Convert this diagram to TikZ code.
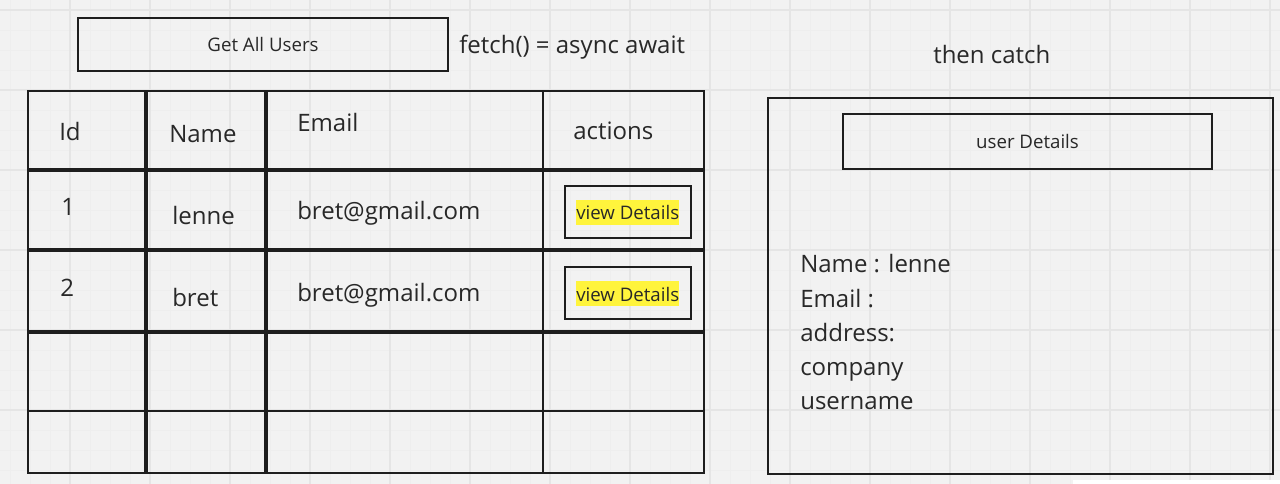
\documentclass[tikz,border=0pt]{standalone}
\usepackage{fontspec}
\setmainfont{Open Sans}
\definecolor{paper}{RGB}{242,242,242}
\definecolor{gridminor}{RGB}{238,238,238}
\definecolor{gridmajor}{RGB}{229,229,229}
\definecolor{ink}{RGB}{30,30,30}
\definecolor{textc}{RGB}{40,40,40}
\definecolor{marker}{RGB}{255,244,60}
\begin{document}
\begin{tikzpicture}[x=0.75pt,y=-0.75pt,
  txt/.style={text=textc,inner sep=0pt,font=\fontsize{18pt}{22pt}\selectfont},
  small/.style={text=textc,inner sep=0pt,font=\fontsize{14pt}{17pt}\selectfont},
  frame/.style={draw=ink,line width=1.8pt,inner sep=0pt},
  thickrule/.style={draw=ink,line width=3pt},
  thinrule/.style={draw=ink,line width=1.8pt},
  hilite/.style={small,fill=marker,text height=15pt,text depth=3.75pt,inner xsep=0pt}]
\useasboundingbox (0,0) rectangle (1280,484);
% paper and grid
\fill[paper] (0,0) rectangle (1280,484);
\foreach \gx in {10,30,...,1270} \draw[gridminor,line width=0.6pt] (\gx,0) -- (\gx,484);
\foreach \gy in {10,30,...,470} \draw[gridminor,line width=0.6pt] (0,\gy) -- (1280,\gy);
\foreach \gx in {70,150,...,1270} \draw[gridmajor,line width=0.9pt] (\gx,0) -- (\gx,484);
\foreach \gy in {10,90,...,410} \draw[gridmajor,line width=0.9pt] (0,\gy) -- (1280,\gy);
\fill[white] (1073,480) rectangle (1280,484);

% header button and notes
\node[frame,minimum width=370*0.75pt,minimum height=53*0.75pt] (getall) at (263,44.5) {};
\node[small,anchor=base] (getalltxt) at (263,52) {Get All Users};
\node[txt,anchor=base west] (fetchnote) at (459,54) {fetch() = async await};
\node[txt,anchor=base west] (thennote) at (933,64) {then catch};

% user table: rules
\coordinate (tl) at (28,91);
\coordinate (br) at (704,473);
\draw[thickrule] (28,170) -- (704,170);
\draw[thickrule] (28,250.5) -- (704,250.5);
\draw[thickrule] (28,331.5) -- (704,331.5);
\draw[thinrule] (28,411) -- (704,411);
\draw[thickrule] (146,91) -- (146,473);
\draw[thickrule] (266,91) -- (266,473);
\draw[thinrule] (543,91) -- (543,473);
\draw[thinrule] (tl) rectangle (br);

% table header
\node[txt,anchor=base west] (hid) at (59,141) {Id};
\node[txt,anchor=base west] (hname) at (169,143) {Name};
\node[txt,anchor=base west] (hemail) at (297,132) {Email};
\node[txt,anchor=base west] (hactions) at (573,140) {actions};

% row 1
\node[txt,anchor=base west] (id1) at (61,216) {1};
\node[txt,anchor=base west] (name1) at (172,225) {lenne};
\node[txt,anchor=base west] (mail1) at (297,220) {bret@gmail.com};
\node[frame,minimum width=126*0.75pt,minimum height=52*0.75pt] (btn1) at (628,212) {};
\node[hilite,anchor=base west] (btn1txt) at (576,220) {view Details};

% row 2
\node[txt,anchor=base west] (id2) at (60,297) {2};
\node[txt,anchor=base west] (name2) at (172,306) {bret};
\node[txt,anchor=base west] (mail2) at (297,301) {bret@gmail.com};
\node[frame,minimum width=126*0.75pt,minimum height=52*0.75pt] (btn2) at (628,293) {};
\node[hilite,anchor=base west] (btn2txt) at (576,301) {view Details};

% details panel
\node[frame,minimum width=505*0.75pt,minimum height=376*0.75pt] (panel) at (1020.5,286) {};
\node[frame,minimum width=369*0.75pt,minimum height=55*0.75pt] (udbox) at (1027.5,141.5) {};
\node[small,anchor=base] (udtxt) at (1027.5,149) {user Details};
\node[txt,anchor=base west] (dname) at (800,273) {Name : lenne};
\node[txt,anchor=base west] (demail) at (800,307) {Email :};
\node[txt,anchor=base west] (daddr) at (800,341) {address:};
\node[txt,anchor=base west] (dcomp) at (800,375) {company};
\node[txt,anchor=base west] (duser) at (800,409) {username};
\end{tikzpicture}
\end{document}
